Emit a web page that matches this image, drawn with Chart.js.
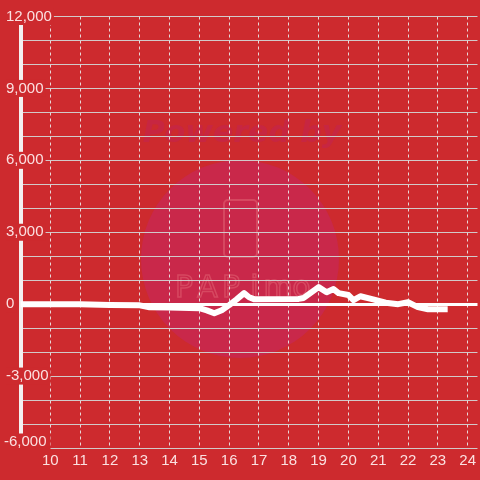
<!DOCTYPE html>
<html>
<head>
<meta charset="utf-8">
<script src="https://cdn.jsdelivr.net/npm/chart.js@4/dist/chart.umd.min.js"></script>
<style>
  html, body { margin: 0; padding: 0; background: #cd2a2e; }
  #wrap { width: 480px; height: 480px; }
</style>
</head>
<body>
<div id="wrap"><canvas id="chart" width="480" height="480"></canvas></div>
<script>
// === DATA ===
const hours = [9, 10, 11, 12, 13, 13.33, 14, 15, 15.25, 15.5, 15.75, 16, 16.25, 16.5, 16.67, 16.83, 18.33, 18.5, 19, 19.27, 19.5, 19.67, 20, 20.17, 20.4, 20.83, 21.25, 21.67, 22, 22.33, 22.67, 23.33];
const values = [0, 0, 0, -30, -50, -130, -140, -170, -260, -380, -250, -40, 200, 460, 290, 210, 220, 260, 710, 500, 630, 460, 380, 170, 330, 200, 60, 0, 80, -125, -210, -210];
const xTicks = [10, 11, 12, 13, 14, 15, 16, 17, 18, 19, 20, 21, 22, 23, 24];
const yLabelStep = 3000;
const yMin = -6000;

const BG = "#cd2a2e";
const labelColor = "rgba(255,240,240,0.92)";
const labelFont = "15px 'Liberation Sans', Arial, sans-serif";

// === BACKGROUND + WATERMARK ===
const watermark = {
  id: "watermark",
  beforeDraw(chart) {
    const c = chart.ctx;
    c.save();
    c.fillStyle = BG;
    c.fillRect(0, 0, chart.width, chart.height);

    // circle
    c.fillStyle = "#c9284a";
    c.beginPath();
    c.arc(240, 259, 99, 0, Math.PI * 2);
    c.fill();

    // "Powered by"
    c.fillStyle = "rgba(198,38,68,0.9)";
    c.font = "italic bold 30px 'DejaVu Sans'";
    c.textAlign = "center";
    c.textBaseline = "middle";
    c.fillText("Powered by", 242, 134);

    // phone icon
    c.strokeStyle = "rgba(235,120,130,0.4)";
    c.lineWidth = 2;
    c.beginPath();
    c.roundRect(224, 200, 33, 57, 4);
    c.stroke();

    // PAPIMO
    c.font = "30px 'DejaVu Sans'";
    c.lineWidth = 1.5;
    const letters = ["P", "A", "P", "i", "m", "o"];
    letters.forEach((ch, i) => c.strokeText(ch, 184 + i * 23.5, 289));
    c.restore();
  },
};

// bottom y label sits a little above its grid line
const bottomLabel = {
  id: "bottomLabel",
  afterDraw(chart) {
    const y = chart.scales.y;
    const c = chart.ctx;
    const text = yMin.toLocaleString("en-US");
    const py = y.getPixelForValue(yMin) - 6;
    c.save();
    c.font = labelFont;
    const w = c.measureText(text).width;
    c.fillStyle = BG;
    c.fillRect(4, py - 8.5, w + 4, 17);
    c.fillStyle = labelColor;
    c.textAlign = "left";
    c.textBaseline = "middle";
    c.fillText(text, 4, py);
    c.restore();
  },
};

// === CHART ===
const ctx = document.getElementById("chart").getContext("2d");

new Chart(ctx, {
  type: "line",
  data: {
    datasets: [
      {
        data: hours.map((h, i) => ({ x: h, y: values[i] })),
        borderColor: "#ffffff",
        borderWidth: 6,
        borderJoinStyle: "round",
        pointRadius: 0,
        tension: 0,
        fill: false,
      },
    ],
  },
  options: {
    responsive: false,
    animation: false,
    layout: { padding: { left: 6, top: 16.5, right: 0, bottom: 0 } },
    plugins: {
      legend: { display: false },
      tooltip: { enabled: false },
    },
    scales: {
      x: {
        type: "linear",
        min: 9,
        max: 24.33,
        afterBuildTicks: (scale) => {
          scale.ticks = xTicks.map((v) => ({ value: v }));
        },
        afterFit: (scale) => {
          scale.height = 32;
        },
        grid: {
          color: "rgba(235,235,235,0.9)",
          lineWidth: 1,
          drawTicks: false,
        },
        border: { display: false, dash: [3, 3] },
        ticks: {
          color: labelColor,
          padding: 4,
          font: { family: "'Liberation Sans', Arial, sans-serif", size: 15 },
          maxRotation: 0,
          autoSkip: false,
        },
      },
      y: {
        min: yMin,
        max: 12000,
        afterFit: (scale) => {
          scale.width = 14.5;
        },
        grid: {
          color: (c) => (c.tick && c.tick.value === 0 ? "#ffffff" : "rgba(210,210,210,0.95)"),
          lineWidth: (c) => (c.tick && c.tick.value === 0 ? 3 : 1),
          drawTicks: false,
        },
        border: { display: true, color: "#f4f0f0", width: 4 },
        ticks: {
          stepSize: 1000,
          autoSkip: false,
          mirror: true,
          padding: -14.5,
          crossAlign: "near",
          color: labelColor,
          font: { family: "'Liberation Sans', Arial, sans-serif", size: 15, lineHeight: 1.0 },
          showLabelBackdrop: true,
          backdropColor: (c) => (c.tick && c.tick.value % yLabelStep === 0 && c.tick.value !== yMin ? BG : "rgba(0,0,0,0)"),
          backdropPadding: { top: 1, bottom: 1, left: 0, right: 2 },
          callback: (v) => (v % yLabelStep === 0 && v !== yMin ? v.toLocaleString("en-US") : ""),
        },
      },
    },
  },
  plugins: [watermark, bottomLabel],
});
</script>
</body>
</html>
